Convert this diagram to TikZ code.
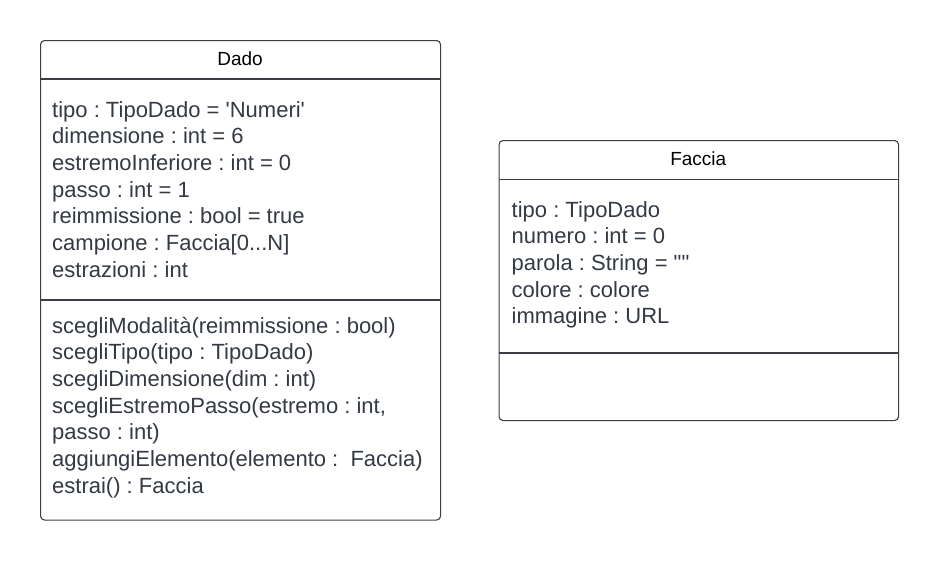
\documentclass[tikz,border=0pt]{standalone}
\usepackage{fontspec}
\setmainfont{Liberation Sans}
\frenchspacing
\definecolor{edge}{HTML}{3B3F45}
\definecolor{ink}{HTML}{333A44}
\begin{document}
\begin{tikzpicture}[x=1pt,y=-1pt,
  classbox/.style={draw=edge, line width=1.1pt, rounded corners=4pt, fill=white,
    inner sep=0pt, anchor=north west},
  divider/.style={draw=edge, line width=1.1pt},
  title/.style={font=\fontsize{19}{23}\selectfont, text=black, inner sep=0pt},
  member/.style={font=\fontsize{22}{26.7}\selectfont, text=ink, inner sep=0pt,
    anchor=base west}]
\useasboundingbox (0,0) rectangle (939,560);

% class Dado
\node[classbox, minimum width=400pt, minimum height=479.5pt] (dado) at (40,40) {};
\draw[divider] (dado.west |- 0,79) -- (dado.east |- 0,79);
\draw[divider] (dado.west |- 0,300) -- (dado.east |- 0,300);
\node[title] (dadoTitle) at (240,58.5) {Dado};
\foreach \txt [count=\i from 0] in {
  {tipo : TipoDado = \textquotesingle Numeri\textquotesingle},
  {dimensione : int = 6},
  {estremoInferiore : int = 0},
  {passo : int = 1},
  {reimmissione : bool = true},
  {campione : Faccia[0.{}.{}.N]},
  {estrazioni : int}}
  \node[member] (dadoAttr\i) at (52,117.3+26.67*\i) {\txt};
\foreach \txt [count=\i from 0] in {
  {scegliModalità(reimmissione : bool)},
  {scegliTipo(tipo : TipoDado)},
  {scegliDimensione(dim : int)},
  {scegliEstremoPasso(estremo : int,},
  {passo : int)},
  {aggiungiElemento(elemento :\ \ Faccia)},
  {estrai() : Faccia}}
  \node[member] (dadoOp\i) at (52,333.3+26.67*\i) {\txt};

% class Faccia
\node[classbox, minimum width=399.5pt, minimum height=280pt] (faccia) at (498.5,140) {};
\draw[divider] (faccia.west |- 0,179.5) -- (faccia.east |- 0,179.5);
\draw[divider] (faccia.west |- 0,353) -- (faccia.east |- 0,353);
\node[title] (facciaTitle) at (698.25,158.5) {Faccia};
\foreach \txt [count=\i from 0] in {
  {tipo : TipoDado},
  {numero : int = 0},
  {parola : String = \textquotedbl\textquotedbl},
  {colore : colore},
  {immagine : URL}}
  \node[member] (facciaAttr\i) at (511.5,217.3+26.67*\i) {\txt};
\end{tikzpicture}
\end{document}
